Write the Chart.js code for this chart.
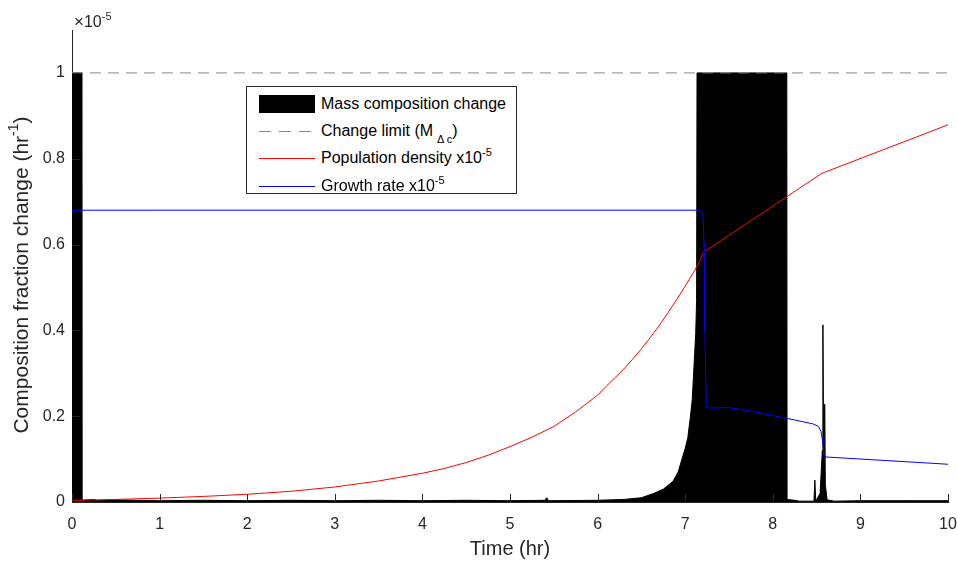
<!DOCTYPE html>
<html>
<head>
<meta charset="utf-8">
<title>Composition fraction change</title>
<script src="https://cdn.jsdelivr.net/npm/chart.js@4.4.1/dist/chart.umd.min.js"></script>
<style>
  html, body { margin: 0; padding: 0; background: #fff; }
  #contenedor { position: relative; width: 958px; height: 563px; }
  #grafica { position: absolute; left: 0; top: 0; }
  #leyenda {
    position: absolute; left: 246px; top: 86px; width: 271px; height: 108px;
    box-sizing: border-box; border: 1px solid #262626; background: #fff;
    font-family: "Liberation Sans", Arial, Helvetica, sans-serif; font-size: 16px; color: #000;
  }
  .fila { position: absolute; left: 0; height: 20px; width: 100%; }
  .muestra { position: absolute; left: 12px; width: 56px; }
  .barra { top: 1px; height: 18px; background: #000; }
  .discontinua { top: 10px; height: 1px; background: repeating-linear-gradient(to right, #888 0 12px, transparent 12px 20px); }
  .roja { top: 10px; height: 1px; background: #ff0000; }
  .azul { top: 10px; height: 1px; background: #0000ff; }
  .texto { position: absolute; left: 74px; top: 0; line-height: 20px; white-space: nowrap; }
  .texto sup { font-size: 11px; position: relative; top: -7px; vertical-align: baseline; line-height: 0; }
  .texto sub { font-size: 11px; position: relative; top: 7px; vertical-align: baseline; line-height: 0; margin-left: 4px; }
</style>
</head>
<body>
<div id="contenedor">
  <canvas id="grafica" width="958" height="563"></canvas>
  <div id="leyenda">
    <div class="fila" style="top:7px"><span class="muestra barra"></span><span class="texto">Mass composition change</span></div>
    <div class="fila" style="top:34px"><span class="muestra discontinua"></span><span class="texto">Change limit (M<sub>Δ c</sub>)</span></div>
    <div class="fila" style="top:61px"><span class="muestra roja"></span><span class="texto">Population density x10<sup>-5</sup></span></div>
    <div class="fila" style="top:89px"><span class="muestra azul"></span><span class="texto">Growth rate x10<sup>-5</sup></span></div>
  </div>
</div>
<script>
// Datos (valores en unidades de 1e-5)
const tiempoMasa = [0, 0.114, 0.116, 0.25, 0.3, 0.45, 1.0, 1.5, 2.0, 2.5, 3.0, 3.5, 4.0, 4.5, 5.0,
  5.4, 5.42, 5.44, 6.0, 6.3, 6.5, 6.64, 6.75, 6.86, 6.92, 6.96, 7.0, 7.03, 7.06, 7.08, 7.10, 7.12, 7.13, 7.135,
  8.16, 8.163, 8.25, 8.3, 8.47, 8.48, 8.49, 8.54, 8.565, 8.572, 8.58, 8.588, 8.592, 8.6, 8.62,
  8.7, 9.0, 9.5, 10];
const cambioMasa = [1, 1, 0.004, 0.006, 0.003, 0.005, 0.003, 0.004, 0.003, 0.004, 0.003, 0.004, 0.003, 0.004, 0.003,
  0.004, 0.01, 0.003, 0.004, 0.006, 0.01, 0.02, 0.03, 0.048, 0.07, 0.098, 0.125, 0.15, 0.2, 0.238, 0.315, 0.393, 0.47, 1,
  1, 0.006, 0.004, 0.002, 0.002, 0.051, 0.002, 0.02, 0.12, 0.413, 0.12, 0.1, 0.228, 0.04, 0.005,
  0.002, 0.003, 0.003, 0.003];

const tiempoLimite = [0, 10];
const limiteCambio = [1, 1];

const tiempoPoblacion = [0, 0.5, 1, 1.5, 2, 2.5, 3, 3.5, 4, 4.25, 4.5, 4.75, 5, 5.25, 5.5, 5.75,
  6, 6.1, 6.2, 6.3, 6.4, 6.5, 6.6, 6.7, 6.8, 6.9, 7.0, 7.1, 7.15, 7.215, 8.56, 10];
const densidadPoblacion = [0.004, 0.006, 0.009, 0.013, 0.018, 0.025, 0.035, 0.049, 0.067, 0.078, 0.092, 0.109,
  0.129, 0.151, 0.176, 0.21, 0.249, 0.27, 0.29, 0.31, 0.333, 0.357, 0.383, 0.41, 0.44, 0.471, 0.503, 0.537,
  0.555, 0.583, 0.766, 0.879];

const tiempoCrecimiento = [0, 0.01, 7.15, 7.19, 7.205, 7.215, 7.225, 7.24, 7.3, 7.5, 7.8, 8.16, 8.46, 8.52,
  8.55, 8.57, 8.585, 8.6, 10];
const tasaCrecimiento = [0.672, 0.68, 0.68, 0.676, 0.665, 0.6, 0.4, 0.22, 0.219, 0.22, 0.21, 0.195, 0.182, 0.176,
  0.165, 0.14, 0.11, 0.105, 0.088];

const ticksX = [0, 1, 2, 3, 4, 5, 6, 7, 8, 9, 10];
const ticksY = [0, 0.2, 0.4, 0.6, 0.8, 1];

const fuente = '"Liberation Sans", Arial, Helvetica, sans-serif';
const colorEjes = '#262626';

function puntos(xs, ys) {
  return xs.map((x, i) => ({ x: x, y: ys[i] }));
}

// Marcas de eje hacia dentro, títulos y exponente
const decoracion = {
  id: 'decoracion',
  afterDatasetsDraw(chart) {
    const { ctx, chartArea } = chart;
    const x = chart.scales.x, y = chart.scales.y;
    ctx.save();
    ctx.strokeStyle = colorEjes;
    ctx.lineWidth = 1;
    ctx.beginPath();
    x.ticks.forEach(t => {
      const px = Math.round(x.getPixelForValue(t.value)) + 0.5;
      ctx.moveTo(px, chartArea.bottom);
      ctx.lineTo(px, chartArea.bottom - 8);
    });
    y.ticks.forEach(t => {
      const py = Math.round(y.getPixelForValue(t.value)) + 0.5;
      ctx.moveTo(chartArea.left, py);
      ctx.lineTo(chartArea.left + 8, py);
    });
    ctx.stroke();
    ctx.restore();
  },
  afterDraw(chart) {
    const { ctx, chartArea } = chart;
    ctx.save();
    ctx.fillStyle = colorEjes;

    // Título eje X
    ctx.font = '20px ' + fuente;
    ctx.textAlign = 'center';
    ctx.textBaseline = 'middle';
    ctx.fillText('Time (hr)', (chartArea.left + chartArea.right) / 2, 549);

    // Título eje Y con superíndice
    ctx.translate(22, 275);
    ctx.rotate(-Math.PI / 2);
    ctx.textAlign = 'left';
    const principal = 'Composition fraction change (hr';
    const sup = '-1';
    const cierre = ')';
    ctx.font = '21px ' + fuente;
    const w1 = ctx.measureText(principal).width;
    const w3 = ctx.measureText(cierre).width;
    ctx.font = '14px ' + fuente;
    const w2 = ctx.measureText(sup).width;
    let inicio = -(w1 + w2 + w3) / 2;
    ctx.font = '21px ' + fuente;
    ctx.fillText(principal, inicio, 0);
    ctx.font = '14px ' + fuente;
    ctx.fillText(sup, inicio + w1, -8);
    ctx.font = '21px ' + fuente;
    ctx.fillText(cierre, inicio + w1 + w2, 0);
    ctx.restore();

    // Exponente ×10^-5 arriba del eje Y
    ctx.save();
    ctx.fillStyle = colorEjes;
    ctx.textAlign = 'left';
    ctx.textBaseline = 'alphabetic';
    ctx.font = '17px ' + fuente;
    ctx.fillText('\u00d7', chartArea.left + 2, 27);
    const wx = ctx.measureText('\u00d7').width;
    ctx.font = '16px ' + fuente;
    ctx.fillText('10', chartArea.left + 2 + wx, 27);
    const wb = ctx.measureText('10').width;
    ctx.font = '11px ' + fuente;
    ctx.fillText('-5', chartArea.left + 2 + wx + wb, 20);
    ctx.restore();
  }
};

Chart.defaults.font.family = fuente;

const grafica = new Chart(document.getElementById('grafica'), {
  type: 'line',
  data: {
    datasets: [
      {
        label: 'Mass composition change',
        data: puntos(tiempoMasa, cambioMasa),
        borderColor: '#000',
        backgroundColor: '#000',
        borderWidth: 1,
        fill: 'origin',
        pointRadius: 0,
        tension: 0,
        order: 4
      },
      {
        label: 'Change limit',
        data: puntos(tiempoLimite, limiteCambio),
        borderColor: '#888',
        borderWidth: 1,
        borderDash: [11, 7],
        pointRadius: 0,
        fill: false,
        order: 3
      },
      {
        label: 'Population density x10-5',
        data: puntos(tiempoPoblacion, densidadPoblacion),
        borderColor: '#ff0000',
        borderWidth: 1,
        pointRadius: 0,
        fill: false,
        tension: 0,
        order: 2
      },
      {
        label: 'Growth rate x10-5',
        data: puntos(tiempoCrecimiento, tasaCrecimiento),
        borderColor: '#0000ff',
        borderWidth: 1,
        pointRadius: 0,
        fill: false,
        tension: 0,
        order: 1
      }
    ]
  },
  options: {
    responsive: false,
    animation: false,
    layout: { padding: { top: 30, right: 10, left: 0, bottom: 0 } },
    plugins: {
      legend: { display: false },
      tooltip: { enabled: false }
    },
    scales: {
      x: {
        type: 'linear',
        min: 0,
        max: 10,
        grid: { display: false, drawTicks: false },
        border: { display: true, color: colorEjes, width: 1 },
        afterBuildTicks: (s) => { s.ticks = ticksX.map(v => ({ value: v })); },
        afterFit: (s) => { s.height = 61; s.paddingLeft = 0; s.paddingRight = 0; },
        ticks: {
          color: colorEjes,
          font: { size: 16 },
          padding: 13,
          maxRotation: 0,
          callback: (v) => String(v)
        }
      },
      y: {
        type: 'linear',
        min: 0,
        max: 1.1,
        grid: { display: false, drawTicks: false },
        border: { display: true, color: colorEjes, width: 1 },
        afterBuildTicks: (s) => { s.ticks = ticksY.map(v => ({ value: v })); },
        afterFit: (s) => { s.width = 72; s.paddingTop = 0; s.paddingBottom = 0; },
        ticks: {
          color: colorEjes,
          font: { size: 16 },
          padding: 7,
          callback: (v) => String(Math.round(v * 10) / 10)
        }
      }
    }
  },
  plugins: [decoracion]
});
</script>
</body>
</html>
